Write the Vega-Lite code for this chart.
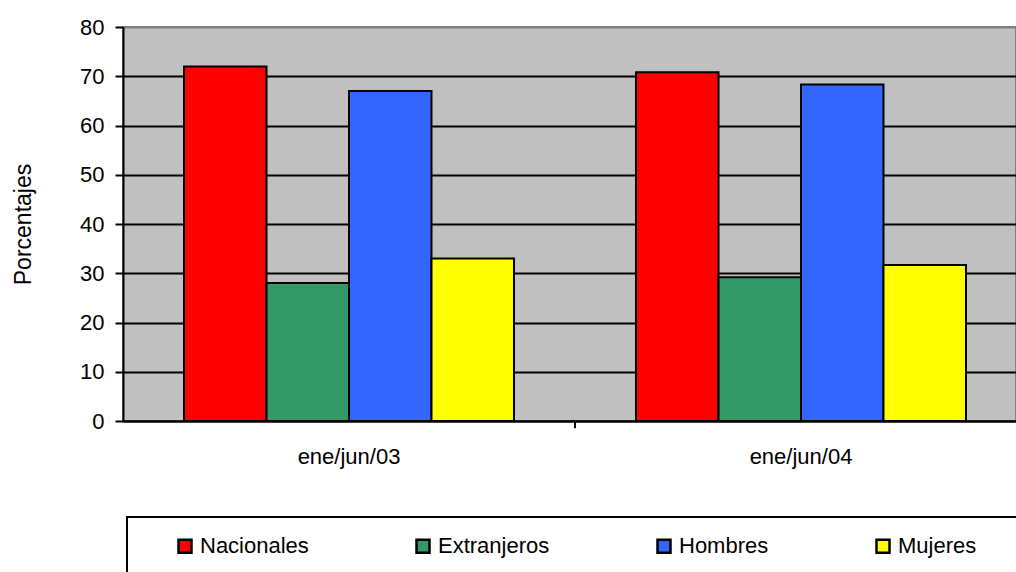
{
  "$schema": "https://vega.github.io/schema/vega-lite/v6.json",
  "autosize": "none",
  "padding": {"left": 123, "top": 27, "right": 0, "bottom": 151},
  "width": 893,
  "height": 394,
  "background": "white",
  "config": {
    "font": "Liberation Sans",
    "view": {"fill": "#C0C0C0", "stroke": "#808080", "strokeWidth": 2},
    "axis": {"labelFont": "Liberation Sans", "titleFont": "Liberation Sans", "labelColor": "black", "titleColor": "black"},
    "legend": {"strokeWidth": 2}
  },
  "layer": [
    {
      "data": {
        "values": [
          {"periodo": "ene/jun/03", "serie": "Nacionales", "valor": 72},
          {"periodo": "ene/jun/03", "serie": "Extranjeros", "valor": 28},
          {"periodo": "ene/jun/03", "serie": "Hombres", "valor": 67},
          {"periodo": "ene/jun/03", "serie": "Mujeres", "valor": 33},
          {"periodo": "ene/jun/04", "serie": "Nacionales", "valor": 70.8},
          {"periodo": "ene/jun/04", "serie": "Extranjeros", "valor": 29.2},
          {"periodo": "ene/jun/04", "serie": "Hombres", "valor": 68.3},
          {"periodo": "ene/jun/04", "serie": "Mujeres", "valor": 31.7}
        ]
      },
      "mark": {"type": "bar", "stroke": "black", "strokeWidth": 2},
      "encoding": {
        "x": {
          "field": "periodo", "type": "nominal",
          "scale": {"range": [0, 904], "paddingInner": 0.27, "paddingOuter": 0.135},
          "axis": {
            "title": null, "labelAngle": 0, "ticks": false, "tickSize": 0,
            "labelPadding": 42, "labelBaseline": "alphabetic", "labelFontSize": 22,
            "domainColor": "black", "domainWidth": 2
          }
        },
        "xOffset": {
          "field": "serie", "type": "nominal",
          "sort": ["Nacionales", "Extranjeros", "Hombres", "Mujeres"],
          "scale": {"paddingInner": 0, "paddingOuter": 0}
        },
        "y": {
          "field": "valor", "type": "quantitative",
          "scale": {"domain": [0, 80], "nice": false},
          "axis": {
            "title": "Porcentajes", "titleFontSize": 23, "titleFontWeight": "normal", "titlePadding": 44,
            "values": [0, 10, 20, 30, 40, 50, 60, 70, 80],
            "labelFontSize": 22, "labelPadding": 11, "tickSize": 8, "tickColor": "black", "tickWidth": 2,
            "domainColor": "black", "domainWidth": 2,
            "grid": true,
            "gridColor": {"condition": {"test": "datum.value == 80", "value": "#808080"}, "value": "black"},
            "gridWidth": 2, "gridOpacity": 1
          }
        },
        "color": {
          "field": "serie", "type": "nominal",
          "scale": {
            "domain": ["Nacionales", "Extranjeros", "Hombres", "Mujeres"],
            "range": ["#FF0000", "#339966", "#3366FF", "#FFFF00"]
          },
          "legend": {
            "orient": "none", "legendX": 4, "legendY": 490,
            "direction": "horizontal", "columns": 4,
            "title": " ", "titleOrient": "right", "titlePadding": 40,
            "strokeColor": "black", "padding": 18, "fillColor": "white",
            "symbolType": "square", "symbolSize": 169, "symbolStrokeColor": "black", "symbolStrokeWidth": 2.5,
            "symbolOpacity": 1, "symbolOffset": 29, "labelOffset": 4, "columnPadding": 74,
            "labelFont": "Liberation Sans", "labelFontSize": 22, "labelColor": "black", "labelLimit": 300
          }
        }
      }
    },
    {
      "data": {"values": [{"periodo": "ene/jun/04"}]},
      "mark": {"type": "rule", "color": "black", "strokeWidth": 2},
      "encoding": {
        "x": {"field": "periodo", "type": "nominal", "bandPosition": -0.185},
        "y": {"datum": 0},
        "y2": {"datum": -1.45}
      }
    }
  ]
}
